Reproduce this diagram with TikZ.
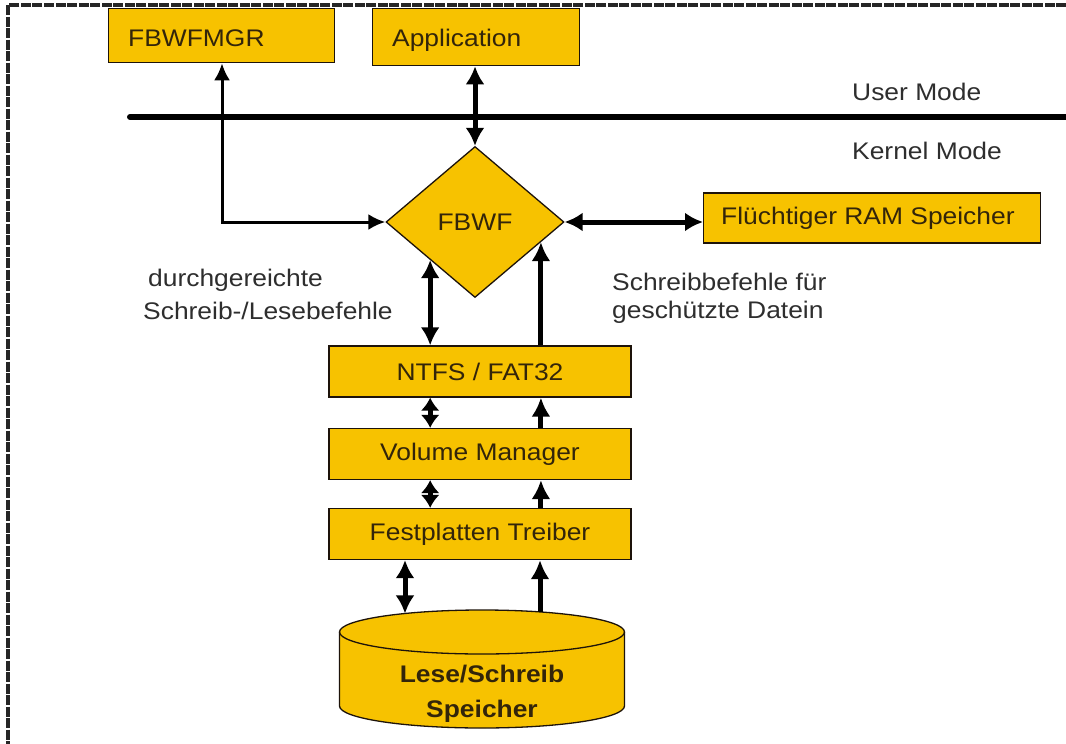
\documentclass[tikz,border=0pt]{standalone}
\usepackage{fontspec}
\setmainfont{Liberation Sans}[FakeStretch=1.1]
\usetikzlibrary{shapes.geometric,arrows.meta,calc}
\definecolor{boxfill}{HTML}{F7C200}
\definecolor{boxtext}{HTML}{33250A}
\definecolor{outtext}{HTML}{2E2E2E}
\tikzset{
  fsz/.style={font=\fontsize{24}{28}\selectfont},
  ybox/.style={draw=black!85!brown, line width=1.3pt, fill=boxfill, inner sep=0pt, fsz, text=boxtext},
  lbl/.style={fsz, text=outtext, inner sep=0pt},
  thickarr/.style={line width=5pt, -{Latex[length=19pt,width=19pt]}},
  thickdbl/.style={line width=5pt, {Latex[length=18pt,width=19pt]}-{Latex[length=18pt,width=19pt]}},
  smalldbl/.style={line width=5pt, {Latex[length=13pt,width=19pt]}-{Latex[length=13pt,width=19pt]}},
  thindbl/.style={line width=3pt, {Latex[length=17pt,width=16pt]}-{Latex[length=17pt,width=16pt]}},
}
\begin{document}
\begin{tikzpicture}[x=1pt,y=1pt]
\useasboundingbox (0,0) rectangle (1066,-744);
\fill[white] (0,0) rectangle (1066,-744);
% dashed frame (top and left)
\draw[line width=3.5pt, black!85, dash pattern=on 10pt off 1.5pt] (1066,-5) -- (8,-5) -- (8,-744);

% top boxes
\node[ybox, minimum width=226pt, minimum height=54pt, anchor=north west] (mgr) at (108,-8) {};
\node[fsz, text=boxtext, anchor=west, inner sep=0pt] (mgrt) at ([xshift=20pt,yshift=-3pt]mgr.west) {FBWFMGR};
\node[ybox, minimum width=207pt, minimum height=57pt, anchor=north west] (app) at (372,-8) {};
\node[fsz, text=boxtext, anchor=west, inner sep=0pt] (appt) at ([xshift=20pt,yshift=-3pt]app.west) {Application};

% mode line
\coordinate (ml) at (130,-117);
\coordinate (mr) at (1066,-117);
\draw[line width=6pt, line cap=round] (ml) -- (mr);
\node[lbl, anchor=west] (um) at (852,-92) {User Mode};
\node[lbl, anchor=west] (km) at (852,-151) {Kernel Mode};

% FBWF diamond
\node[diamond, draw=black!85!brown, line width=1.3pt, fill=boxfill, minimum width=178pt, minimum height=151pt, inner sep=0pt, fsz, text=boxtext] (fbwf) at (475,-222) {FBWF};

% RAM
\node[ybox, minimum width=337pt, minimum height=50pt, anchor=west] (ram) at (703,-218) {};
\node[fsz, text=boxtext, anchor=west, inner sep=0pt] (ramt) at ([xshift=18pt]ram.west) {Flüchtiger RAM Speicher};

% labels
\node[lbl, anchor=west] (l1) at (148,-280) {durchgereichte};
\node[lbl, anchor=west] (l2) at (143,-311) {Schreib-/Lesebefehle};
\node[lbl, anchor=west] (r1) at (612,-282) {Schreibbefehle für};
\node[lbl, anchor=west] (r2) at (612,-312) {geschützte Datein};

% stack boxes
\node[ybox, minimum width=302pt, minimum height=51pt] (ntfs) at (480,-371.5) {NTFS / FAT32};
\node[ybox, minimum width=302pt, minimum height=51pt] (vm) at (480,-454) {Volume Manager};
\node[ybox, minimum width=302pt, minimum height=51pt] (ft) at (480,-534) {Festplatten Treiber};

% cylinder
\def\cx{482}\def\cy{-632}\def\rx{142.5}\def\ry{22}\def\cb{-706}
\filldraw[draw=black!85!brown, line width=1.3pt, fill=boxfill]
  (\cx-\rx,\cy) -- (\cx-\rx,\cb) arc[start angle=180,end angle=360,x radius=\rx,y radius=\ry]
  -- (\cx+\rx,\cy) arc[start angle=0,end angle=180,x radius=\rx,y radius=\ry] -- cycle;
\draw[draw=black!85!brown, line width=1.3pt] (\cx-\rx,\cy) arc[start angle=180,end angle=360,x radius=\rx,y radius=\ry];
\coordinate (cylL) at (405,{\cy+\ry*sqrt(1-((405-\cx)/\rx)^2)});
\coordinate (cylR) at (540,{\cy+\ry*sqrt(1-((540-\cx)/\rx)^2)});
\node[font=\fontsize{24}{35}\selectfont\bfseries, text=boxtext, align=center, inner sep=0pt] (cylt) at (\cx,-694) {Lese/Schreib\\Speicher};

% connectors
\coordinate (mgrx) at (222,0);
\draw[thindbl] (fbwf.west) -| (mgr.south -| mgrx);
\draw[thickdbl] (app.south -| fbwf.north) -- (fbwf.north);
\draw[thickdbl] (fbwf.east) -- (ram.west |- fbwf.east);
\draw[thickdbl] (ntfs.north -| fbwf.south west) -- (fbwf.south west);
\draw[thickarr] (ntfs.north -| fbwf.-17.4) -- (fbwf.-17.4);
\draw[smalldbl] (vm.north -| fbwf.south west) -- (ntfs.south -| fbwf.south west);
\draw[thickarr] (vm.north -| fbwf.-17.4) -- (ntfs.south -| fbwf.-17.4);
\draw[smalldbl] (ft.north -| fbwf.south west) -- (vm.south -| fbwf.south west);
\draw[thickarr] (ft.north -| fbwf.-17.4) -- (vm.south -| fbwf.-17.4);
\draw[thickdbl] (cylL) -- (ft.south -| cylL);
\draw[thickarr] (cylR) -- (ft.south -| cylR);
\end{tikzpicture}
\end{document}
